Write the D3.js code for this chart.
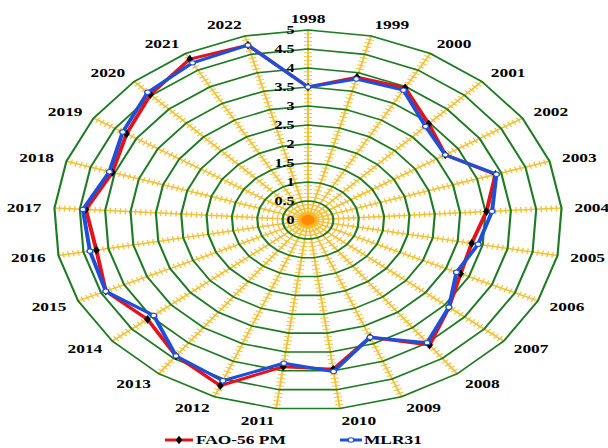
<!DOCTYPE html>
<html>
<head>
<meta charset="utf-8">
<script src="https://cdn.jsdelivr.net/npm/d3@7"></script>
<style>
  html, body { margin: 0; padding: 0; background: #fff; }
  svg { display: block; }
  text { font-family: "Liberation Serif", "Times New Roman", serif; font-weight: bold; fill: #000; }
</style>
</head>
<body>
<svg id="chart" width="608" height="448"></svg>
<script>
// Annual values per year, two estimation methods
const years = ["1998","1999","2000","2001","2002","2003","2004","2005","2006","2007","2008","2009","2010",
               "2011","2012","2013","2014","2015","2016","2017","2018","2019","2020","2021","2022"];
const fao56 = [3.50, 3.88, 3.97, 3.47, 3.20, 3.88, 3.52, 3.28, 3.32, 3.60, 4.07, 3.32, 3.96,
               3.89, 4.69, 4.42, 4.10, 4.40, 4.24, 4.38, 4.05, 4.23, 4.53, 4.83, 4.75];
const mlr31 = [3.50, 3.83, 3.90, 3.38, 3.20, 3.90, 3.63, 3.41, 3.23, 3.60, 3.99, 3.32, 4.02,
               3.80, 4.55, 4.42, 3.94, 4.40, 4.37, 4.44, 4.11, 4.32, 4.61, 4.72, 4.75];
const ringTicks = [0, 0.5, 1, 1.5, 2, 2.5, 3, 3.5, 4, 4.5, 5];
const seriesNames = ["FAO-56 PM", "MLR31"];

const svg = d3.select("#chart");
const SX = 1.337;            // horizontal stretch of the whole figure
const cx = 308, cy = 220;
const R = 190;

const root = svg.append("g").attr("transform", `scale(${SX},1)`);
const g = root.append("g").attr("transform", `translate(${cx / SX},${cy})`);

const r = d3.scaleLinear().domain([0, 5]).range([0, R]);
const angle = d3.scaleLinear().domain([0, years.length]).range([0, 2 * Math.PI]);

// Spokes with cross ticks every 0.1
const minor = d3.range(1, 51).map(k => k / 10);
const spokes = g.append("g");
years.forEach((y, i) => {
  const a = angle(i);
  const s = Math.sin(a), c = -Math.cos(a);
  spokes.append("line")
    .attr("x1", 0).attr("y1", 0)
    .attr("x2", s * r(5)).attr("y2", c * r(5))
    .attr("stroke", "#f2c23a").attr("stroke-width", 1.5);
  minor.forEach(v => {
    const px = s * r(v), py = c * r(v);
    const h = 3;
    spokes.append("line")
      .attr("x1", px - c * h).attr("y1", py + s * h)
      .attr("x2", px + c * h).attr("y2", py - s * h)
      .attr("stroke", "#f2c23a").attr("stroke-width", 1);
  });
});

// Orange hub
g.append("circle").attr("r", 7).attr("fill", "#ffb020");
g.append("circle").attr("r", 5).attr("fill", "#ff8a00");

// Grid rings (polygons)
const ringLine = d3.lineRadial()
  .angle((d, i) => angle(i))
  .radius(d => r(d))
  .curve(d3.curveLinearClosed);
g.append("g").selectAll("path")
  .data(ringTicks.filter(t => t > 0))
  .join("path")
  .attr("d", t => ringLine(years.map(() => t)))
  .attr("fill", "none")
  .attr("stroke", "#1f7a24")
  .attr("stroke-width", 1.6);

// Ring value labels along the first spoke
g.append("g").selectAll("text")
  .data(ringTicks)
  .join("text")
  .attr("x", -10)
  .attr("y", t => -r(t))
  .attr("dy", "0.35em")
  .attr("text-anchor", "end")
  .attr("font-size", 12)
  .text(t => t);

// Year labels
g.append("g").selectAll("text")
  .data(years)
  .join("text")
  .attr("x", (d, i) => Math.sin(angle(i)) * (r(5) + 13 / SX))
  .attr("y", (d, i) => -Math.cos(angle(i)) * (r(5) + 12))
  .attr("dy", "0.35em")
  .attr("text-anchor", (d, i) => {
    const s = Math.sin(angle(i));
    return s > 0.05 ? "start" : (s < -0.05 ? "end" : "middle");
  })
  .attr("font-size", 13)
  .text(d => d);

// Series
const seriesLine = d3.lineRadial()
  .angle((d, i) => angle(i))
  .radius(d => r(d))
  .curve(d3.curveLinearClosed);

const diamond = d3.symbol().type(d3.symbolDiamond).size(22);

function pt(v, i) {
  return [Math.sin(angle(i)) * r(v), -Math.cos(angle(i)) * r(v)];
}

g.append("path")
  .attr("d", seriesLine(fao56))
  .attr("fill", "none").attr("stroke", "#e3121b").attr("stroke-width", 3)
  .attr("stroke-linejoin", "round");
g.append("g").selectAll("path")
  .data(fao56)
  .join("path")
  .attr("transform", (d, i) => `translate(${pt(d, i)})`)
  .attr("d", diamond)
  .attr("fill", "#000");

g.append("path")
  .attr("d", seriesLine(mlr31))
  .attr("fill", "none").attr("stroke", "#1f4fd8").attr("stroke-width", 3)
  .attr("stroke-linejoin", "round");
g.append("g").selectAll("circle")
  .data(mlr31)
  .join("circle")
  .attr("cx", (d, i) => pt(d, i)[0])
  .attr("cy", (d, i) => pt(d, i)[1])
  .attr("r", 2.2)
  .attr("fill", "#fff").attr("stroke", "#1f4fd8").attr("stroke-width", 1);

// Legend
const legend = root.append("g");
const items = [
  { name: seriesNames[0], color: "#e3121b", x0: 165, x1: 193, tx: 196, marker: "diamond" },
  { name: seriesNames[1], color: "#1f4fd8", x0: 340, x1: 362, tx: 364, marker: "circle" }
];
items.forEach(it => {
  const ly = 440;
  legend.append("line")
    .attr("x1", it.x0 / SX).attr("x2", it.x1 / SX)
    .attr("y1", ly).attr("y2", ly)
    .attr("stroke", it.color).attr("stroke-width", 3);
  const mx = (it.x0 + it.x1) / 2 / SX;
  if (it.marker === "diamond") {
    legend.append("path").attr("transform", `translate(${mx},${ly})`)
      .attr("d", diamond).attr("fill", "#000");
  } else {
    legend.append("circle").attr("cx", mx).attr("cy", ly).attr("r", 2.2)
      .attr("fill", "#fff").attr("stroke", it.color).attr("stroke-width", 1);
  }
  legend.append("text")
    .attr("x", it.tx / SX).attr("y", 444.5)
    .attr("font-size", 13)
    .text(it.name);
});
</script>
</body>
</html>
